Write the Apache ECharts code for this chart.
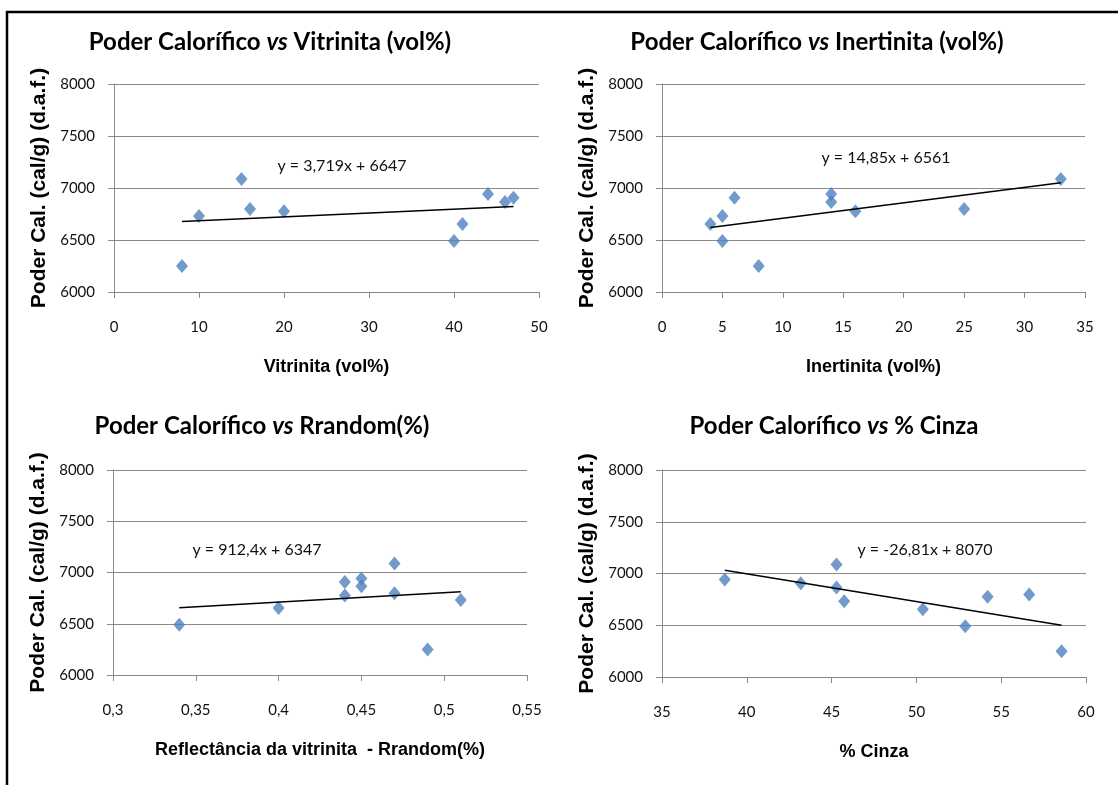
<!DOCTYPE html>
<html>
<head>
<meta charset="utf-8">
<script src="https://cdn.jsdelivr.net/npm/echarts@6/dist/echarts.min.js"></script>
<style>
html,body{margin:0;padding:0;background:#fff;}
#c{width:1118px;height:785px;}
</style>
</head>
<body>
<div id="c"></div>
<script>
// ---- data ----
const poderCal   = [6250, 6731, 7087, 6798, 6776, 6490, 6654, 6942, 6865, 6907];
const vitrinita  = [8, 10, 15, 16, 20, 40, 41, 44, 46, 47];
const inertinita = [8, 5, 33, 25, 16, 5, 4, 14, 14, 6];
const rrandom    = [0.49, 0.51, 0.47, 0.47, 0.44, 0.34, 0.40, 0.45, 0.45, 0.44];
const cinza      = [58.56, 45.74, 45.29, 56.65, 54.2, 52.88, 50.38, 38.7, 45.29, 43.18];

// trendline coefficients [slope, intercept] as printed
const trendVit = [3.719, 6647];
const trendIne = [14.85, 6561];
const trendRr  = [912.4, 6347];
const trendCin = [-26.81, 8070];

const titles = ['Vitrinita (vol%)', 'Inertinita (vol%)', 'Rrandom(%)', '% Cinza'];
const xNames = ['Vitrinita (vol%)', 'Inertinita (vol%)', 'Reflectância da vitrinita  - Rrandom(%)', '% Cinza'];
const yName = 'Poder Cal. (cal/g) (d.a.f.)';
const yTicks = {min: 6000, max: 8000, interval: 500};
const xTicks = [
  {min: 0, max: 50, interval: 10},
  {min: 0, max: 35, interval: 5},
  {min: 0.3, max: 0.55, interval: 0.05},
  {min: 35, max: 60, interval: 5}
];

// ---- layout ----
const grids = [
  {left: 114, top: 84, width: 425, height: 208},
  {left: 662, top: 84, width: 423, height: 208},
  {left: 113, top: 470, width: 414, height: 205},
  {left: 662, top: 470, width: 424, height: 207}
];
const titlePos = [[270, 30], [817, 30], [262, 414], [834, 414]];
const eqPos = [[342, 166], [886, 158], [257, 550], [925, 550]];

const xs = [vitrinita, inertinita, rrandom, cinza];
const trends = [trendVit, trendIne, trendRr, trendCin];

const fmt = v => String(v).replace('.', ',');
const eqText = t => 'y = ' + fmt(t[0]) + 'x + ' + fmt(t[1]);

const gridColor = '#8a8a8a';
const labelFont = 'Lato';
const option = {
  backgroundColor: '#fff',
  animation: false,
  title: [], grid: [], xAxis: [], yAxis: [], series: [], graphic: []
};

for (let i = 0; i < 4; i++) {
  option.grid.push(grids[i]);
  option.title.push({
    text: '{a|Poder Calorífico }{i|vs}{a| ' + titles[i] + '}',
    left: titlePos[i][0], top: titlePos[i][1], textAlign: 'center',
    padding: 0,
    textStyle: {
      rich: {
        a: {fontFamily: 'Lato', fontWeight: 'bold', fontSize: 24, color: '#000'},
        i: {fontFamily: 'Lato', fontWeight: 'bold', fontStyle: 'italic', fontSize: 24, color: '#000'}
      }
    }
  });
  option.xAxis.push({
    type: 'value', gridIndex: i,
    min: xTicks[i].min, max: xTicks[i].max, interval: xTicks[i].interval,
    name: xNames[i], nameLocation: 'middle', nameGap: 66,
    nameTextStyle: {fontFamily: 'Liberation Sans', fontWeight: 'bold', fontSize: 18, color: '#000'},
    axisLine: {show: true, onZero: false, lineStyle: {color: gridColor, width: 1}},
    axisTick: {show: true, inside: false, length: 6, lineStyle: {color: gridColor}},
    splitLine: {show: false},
    axisLabel: {margin: 28, fontFamily: labelFont, fontSize: 15, color: '#111',
      formatter: v => fmt(+v.toFixed(2))}
  });
  option.yAxis.push({
    type: 'value', gridIndex: i,
    min: yTicks.min, max: yTicks.max, interval: yTicks.interval,
    name: yName, nameLocation: 'middle', nameGap: 64,
    nameTextStyle: {fontFamily: 'Liberation Sans', fontWeight: 'bold', fontSize: 21, color: '#000'},
    axisLine: {show: true, lineStyle: {color: gridColor, width: 1}},
    axisTick: {show: true, inside: false, length: 6, lineStyle: {color: gridColor}},
    splitLine: {show: true, lineStyle: {color: gridColor, width: 1}},
    axisLabel: {margin: 19, fontFamily: labelFont, fontSize: 15, color: '#111',
      formatter: v => String(v)}
  });
  const pts = xs[i].map((x, k) => [x, poderCal[k]]);
  option.series.push({
    type: 'scatter', xAxisIndex: i, yAxisIndex: i,
    symbol: 'diamond', symbolSize: [12, 14],
    itemStyle: {color: '#4f81bd'},
    data: pts, z: 3
  });
  const x0 = Math.min(...xs[i]), x1 = Math.max(...xs[i]);
  const t = trends[i];
  option.series.push({
    type: 'line', xAxisIndex: i, yAxisIndex: i,
    symbol: 'none', silent: true,
    lineStyle: {color: '#000', width: 1.5},
    data: [[x0, t[0] * x0 + t[1]], [x1, t[0] * x1 + t[1]]], z: 4
  });
  option.graphic.push({
    type: 'text', x: eqPos[i][0], y: eqPos[i][1],
    style: {text: eqText(t), fontFamily: labelFont, fontSize: 16, fill: '#111',
      textAlign: 'center', textVerticalAlign: 'middle'}
  });
}
// outer frame
option.graphic.push({type: 'polyline', shape: {points: [[7, 785], [7, 12], [1118, 12]]},
  style: {stroke: '#000', lineWidth: 2.5, fill: null}});

const chart = echarts.init(document.getElementById('c'));
chart.setOption(option);
</script>
</body>
</html>
